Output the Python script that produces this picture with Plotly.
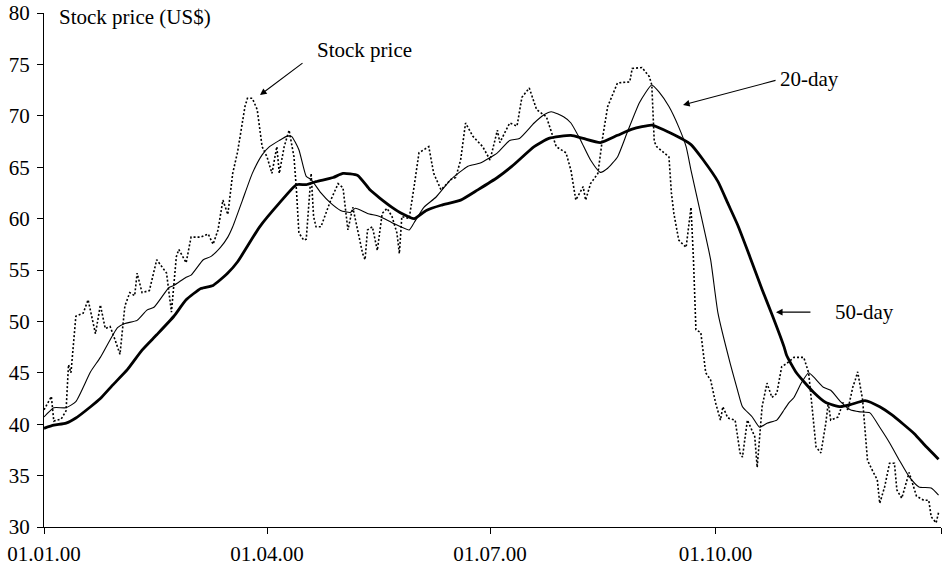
import pandas as pd
import plotly.graph_objects as go

START = "2000-01-01"

# Stock price (dotted) - day offset from 01.01.00 and price
stock_day = [0, 3, 4, 7, 9, 10, 11, 13, 16, 18, 21, 23, 25, 27, 29, 31, 33, 35, 37, 38,
             40, 43, 46, 50, 52, 54, 55, 58, 60, 64, 67, 69, 71, 73, 75, 76, 77, 79, 81, 82,
             83, 85, 87, 89, 91, 93, 95, 96, 98, 100, 102, 103, 104, 106, 107, 109, 110, 111, 113, 117,
             120, 122, 124, 126, 130, 131, 132, 134, 136, 138, 140, 142, 144, 145, 146, 149, 151, 153, 157, 159,
             162, 166, 168, 170, 172, 175, 179, 182, 185, 186, 190, 193, 195, 198, 201, 205, 209, 213, 215, 217,
             220, 221, 223, 226, 228, 230, 234, 239, 240, 244, 247, 248, 249, 250, 253, 255, 256, 257, 259, 262,
             264, 265, 266, 268, 270, 272, 274, 276, 277, 279, 282, 284, 285, 287, 290, 291, 293, 295, 297, 299,
             301, 303, 306, 310, 312, 313, 314, 315, 317, 319, 320, 321, 324, 326, 328, 330, 331, 332, 334, 335,
             336, 338, 340, 341, 343, 345, 347, 348, 350, 353, 354, 356, 359, 361, 362, 364, 365]
stock_price = [41.4, 42.7, 40.3, 40.5, 41.3, 45.8, 45.0, 50.5, 50.8, 52.1, 48.8, 51.6, 49.3, 49.5, 48.2, 46.8, 51.5, 52.8, 52.5, 54.7,
               52.8, 53.0, 56.0, 54.7, 50.9, 56.3, 57.0, 55.7, 58.2, 58.2, 58.5, 57.5, 58.9, 61.8, 60.4, 62.5, 64.4, 66.5, 69.3, 70.9,
               71.7, 71.7, 70.6, 67.0, 66.0, 64.4, 67.0, 64.4, 67.0, 68.6, 66.0, 62.8, 58.6, 57.9, 58.0, 64.4, 60.2, 59.2, 59.2, 61.8,
               63.4, 63.0, 58.9, 61.1, 56.6, 56.0, 58.9, 59.2, 56.9, 60.5, 61.0, 60.2, 58.6, 56.6, 60.2, 60.0, 63.1, 66.4, 67.0, 64.4,
               62.8, 63.8, 64.0, 65.7, 69.3, 68.0, 67.0, 65.7, 68.6, 67.4, 69.3, 69.0, 71.8, 72.7, 70.6, 69.9, 67.0, 66.4, 64.7, 61.8,
               63.1, 61.8, 63.4, 64.4, 68.0, 70.9, 73.2, 73.3, 74.6, 74.7, 73.8, 73.0, 67.5, 67.0, 66.4, 66.0, 62.5, 60.5, 57.9, 57.2,
               61.1, 56.0, 49.2, 48.9, 45.0, 44.3, 42.1, 40.4, 41.7, 40.6, 40.4, 37.2, 36.8, 40.4, 38.8, 35.8, 41.7, 44.0, 42.6, 43.0,
               45.6, 45.9, 46.5, 46.5, 45.0, 42.6, 40.1, 37.8, 37.2, 40.1, 42.1, 40.4, 40.7, 42.1, 41.4, 43.6, 44.3, 45.1, 42.4, 39.1,
               36.5, 35.5, 34.6, 32.3, 33.9, 36.2, 36.2, 33.6, 32.8, 35.3, 34.6, 33.0, 32.6, 32.6, 31.0, 30.4, 31.4]

# 20-day moving average (thin line)
ma20_day = [0, 4, 9, 13, 19, 23, 30, 33, 38, 42, 45, 51, 53, 58, 60, 65, 68, 72, 75, 77,
            81, 85, 89, 92, 96, 99, 101, 104, 107, 109, 113, 117, 121, 125, 127, 132, 137, 142, 149, 151,
            155, 160, 166, 173, 178, 185, 190, 194, 200, 204, 207, 212, 215, 219, 223, 227, 230, 234, 238, 243,
            248, 251, 255, 259, 262, 264, 268, 272, 275, 280, 283, 285, 289, 292, 295, 299, 302, 304, 306, 309,
            312, 314, 318, 321, 325, 329, 333, 337, 341, 345, 349, 353, 357, 362, 365]
ma20 = [40.7, 41.6, 41.6, 42.2, 45.1, 46.5, 49.4, 49.8, 50.1, 51.1, 51.4, 53.3, 53.5, 54.3, 54.5, 56.0, 56.3, 57.2, 58.2, 59.2,
        61.8, 64.4, 66.2, 67.0, 67.6, 68.0, 68.0, 66.7, 64.1, 63.8, 62.5, 61.5, 60.8, 60.6, 61.0, 60.5, 60.2, 59.6, 58.9, 59.6,
        61.1, 62.1, 63.8, 65.1, 65.4, 66.4, 67.6, 67.8, 69.3, 70.1, 70.4, 69.9, 69.3, 67.6, 65.7, 64.5, 64.9, 66.0, 68.4, 71.3,
        73.0, 72.3, 70.9, 68.9, 67.0, 64.7, 60.4, 56.0, 50.8, 45.9, 43.3, 41.7, 40.7, 39.7, 40.1, 40.4, 41.4, 42.1, 42.6, 44.0,
        45.0, 44.6, 43.6, 43.3, 42.2, 41.4, 41.2, 41.1, 39.7, 38.2, 36.5, 34.9, 33.9, 33.8, 33.1]

# 50-day moving average (thick line)
ma50_day = [0, 4, 9, 13, 19, 23, 28, 34, 40, 46, 53, 58, 64, 69, 75, 79, 88, 96, 103, 107,
            111, 118, 122, 128, 133, 137, 142, 146, 151, 156, 162, 170, 177, 185, 191, 200, 206, 215, 220, 227,
            234, 240, 248, 255, 264, 269, 275, 279, 283, 288, 293, 297, 302, 303, 307, 314, 319, 325, 329, 335,
            341, 346, 355, 360, 365]
ma50 = [39.6, 39.9, 40.1, 40.6, 41.7, 42.5, 43.8, 45.3, 47.2, 48.7, 50.5, 52.1, 53.2, 53.5, 54.7, 55.8, 59.2, 61.5, 63.3, 63.3,
        63.6, 64.0, 64.4, 64.2, 62.8, 62.0, 61.1, 60.5, 60.0, 60.8, 61.3, 61.8, 62.8, 64.0, 65.1, 67.0, 67.8, 68.1, 67.8, 67.4,
        68.1, 68.7, 69.1, 68.4, 67.2, 65.7, 63.6, 61.5, 59.4, 56.3, 53.1, 50.7, 47.5, 46.7, 45.0, 43.1, 42.1, 41.7, 41.9, 42.3,
        41.7, 40.9, 39.1, 37.8, 36.6]

tick_dates = ["2000-01-01", "2000-04-01", "2000-07-01", "2000-10-01", "2001-01-01"]
tick_text = ["01.01.00", "01.04.00", "01.07.00", "01.10.00", ""]
y_ticks = [30, 35, 40, 45, 50, 55, 60, 65, 70, 75, 80]


def to_dates(days):
    return pd.Timestamp(START) + pd.to_timedelta(days, unit="D")


FONT = "Liberation Serif, Times New Roman, serif"

fig = go.Figure()
fig.add_trace(go.Scatter(x=to_dates(stock_day), y=stock_price, mode="lines", name="Stock price",
                         line=dict(color="black", width=1.6, dash="2px,2px")))
fig.add_trace(go.Scatter(x=to_dates(ma20_day), y=ma20, mode="lines", name="20-day",
                         line=dict(color="black", width=1.1, shape="spline", smoothing=0.5)))
fig.add_trace(go.Scatter(x=to_dates(ma50_day), y=ma50, mode="lines", name="50-day",
                         line=dict(color="black", width=2.8, shape="spline", smoothing=0.5)))

fig.update_layout(
    width=949, height=574,
    margin=dict(l=44, r=8, t=13, b=47),
    paper_bgcolor="white", plot_bgcolor="white",
    showlegend=False, hovermode=False,
    font=dict(family=FONT, size=21, color="black"),
)
fig.update_xaxes(
    type="date", range=["2000-01-01", "2001-01-01"],
    tickmode="array", tickvals=tick_dates, ticktext=tick_text,
    ticks="outside", ticklen=6, tickcolor="black", tickwidth=1,
    showline=True, linecolor="black", linewidth=1,
    showgrid=False, zeroline=False, ticklabelstandoff=2, automargin=False,
)
fig.update_yaxes(
    range=[30, 80], tickmode="array", tickvals=y_ticks,
    ticks="outside", ticklen=6, tickcolor="black", tickwidth=1,
    showline=True, linecolor="black", linewidth=1,
    showgrid=False, zeroline=False, ticklabelstandoff=3, automargin=False,
)

# Texts
fig.add_annotation(text="Stock price (US$)", xref="paper", yref="paper", x=0.0145, y=0.992,
                   xanchor="left", yanchor="middle", showarrow=False)
fig.add_annotation(text="Stock price", xref="paper", yref="paper", x=0.302, y=0.928,
                   xanchor="left", yanchor="middle", showarrow=False)
fig.add_annotation(text="20-day", xref="paper", yref="paper", x=0.818, y=0.872,
                   xanchor="left", yanchor="middle", showarrow=False)
fig.add_annotation(text="50-day", xref="paper", yref="paper", x=0.880, y=0.418,
                   xanchor="left", yanchor="middle", showarrow=False)

# Arrows
for (xp, yp, ax, ay) in [(0.2408, 0.8405, 44, -33), (0.7124, 0.821, 94, -25), (0.816, 0.418, 36, 0)]:
    fig.add_annotation(text="", xref="paper", yref="paper", x=xp, y=yp, ax=ax, ay=ay,
                       showarrow=True, arrowhead=2, arrowsize=1.2, arrowwidth=1.1, arrowcolor="black",
                       standoff=0, startstandoff=0)

fig.write_html("out.html", config={"displayModeBar": False},
               post_script="document.body.style.margin='0';document.body.style.overflow='hidden';")
